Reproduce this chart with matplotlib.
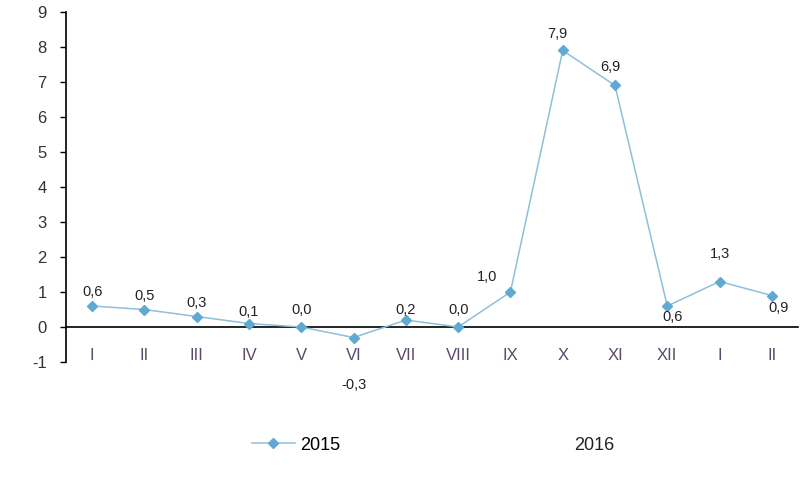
import matplotlib
matplotlib.use("Agg")
import matplotlib.pyplot as plt
from matplotlib.lines import Line2D

categories = ["I", "II", "III", "IV", "V", "VI", "VII", "VIII", "IX", "X", "XI", "XII", "I", "II"]
values = [0.6, 0.5, 0.3, 0.1, 0.0, -0.3, 0.2, 0.0, 1.0, 7.9, 6.9, 0.6, 1.3, 0.9]
value_labels = ["0,6", "0,5", "0,3", "0,1", "0,0", "-0,3", "0,2", "0,0", "1,0", "7,9", "6,9", "0,6", "1,3", "0,9"]
series_name = "2015"
second_year = "2016"
y_ticks = list(range(-1, 10))

# label offsets in points (dx, dy)
label_offsets = [(0, 10), (0, 10), (0, 10), (0, 8), (0, 12), (0, -34), (0, 7), (0, 12),
                 (-17, 11), (-4, 12), (-3, 13), (4, -8), (0, 20), (5, -9)]

plt.rcParams['font.family'] = ['Liberation Sans', 'DejaVu Sans']
fig = plt.figure(figsize=(8, 4.99), dpi=100)
ax = fig.add_axes([0.0825, 0.2745, 0.9150, 0.7015])

x = list(range(len(categories)))
line_color = "#8fbfd9"
marker_color = "#5fa9d3"
ax.plot(x, values, color=line_color, lw=1.1, marker="D", markersize=5.5,
        markerfacecolor=marker_color, markeredgecolor=marker_color, zorder=3)

for xi, v, lab, (dx, dy) in zip(x, values, value_labels, label_offsets):
    ax.annotate(lab, (xi, v), xytext=(dx, dy), textcoords="offset points",
                ha="center", va="center", fontsize=10.5, color="#222222")

ax.set_xlim(-0.5, len(categories) - 0.5)
ax.set_ylim(-1, 9)
ax.set_yticks(y_ticks)
ax.set_yticklabels([str(t) for t in y_ticks], fontsize=12, color="#333333")
ax.tick_params(axis="y", length=4, width=1, direction="out", pad=10)

ax.spines["top"].set_visible(False)
ax.spines["right"].set_visible(False)
ax.spines["left"].set_linewidth(1.2)
ax.spines["bottom"].set_position(("data", 0))
ax.spines["bottom"].set_linewidth(1.2)
ax.set_xticks(x)
ax.set_xticklabels(categories, fontsize=12, color="#5b4a6b")
ax.tick_params(axis="x", length=0, pad=15)

handle = Line2D([0], [0], color=line_color, lw=1.1, marker="D", markersize=5.5,
                markerfacecolor=marker_color, markeredgecolor=marker_color)
fig.legend([handle], [series_name], loc="center", bbox_to_anchor=(0.37, 0.108),
           frameon=False, fontsize=13, handlelength=2.4, handletextpad=0.3)
fig.text(0.743, 0.108, second_year, ha="center", va="center", fontsize=13, color="#222222")

fig.savefig("out.png", dpi=100)
